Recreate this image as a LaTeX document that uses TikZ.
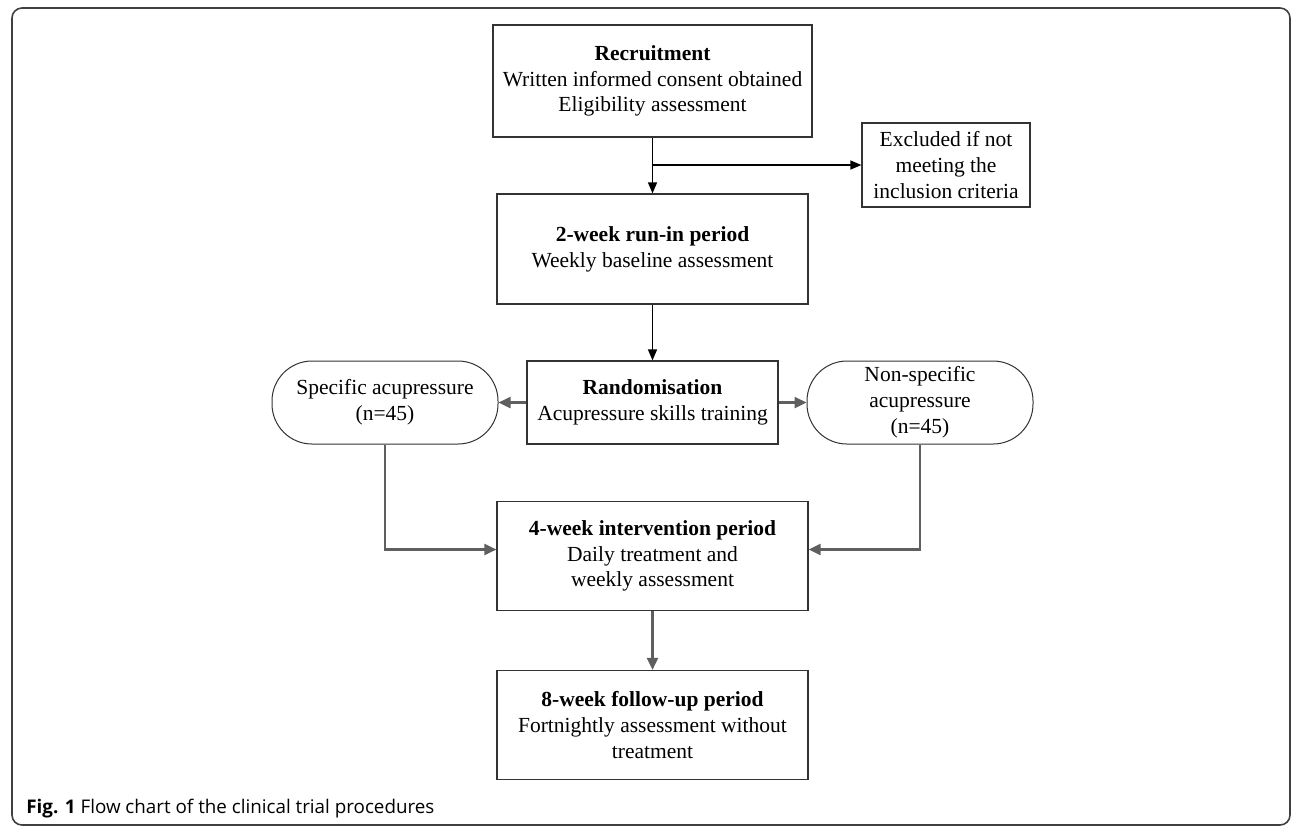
\documentclass[tikz,border=0pt]{standalone}
\usepackage{fontspec}
\setmainfont{Liberation Serif}
\newfontfamily\capfont{Open Sans}
\usetikzlibrary{arrows.meta,calc}
\definecolor{arrgray}{HTML}{5F5F5F}
\begin{document}
\begin{tikzpicture}[x=0.5pt,y=-0.5pt,
  every node/.style={font=\fontsize{10.75pt}{12.9pt}\selectfont, align=center, inner sep=0pt},
  box/.style={draw=black!80, line width=0.6pt, fill=white},
  pill/.style={draw=black!80, line width=0.5pt, rounded corners=20pt, fill=white},
  blk/.style={draw=black, line width=0.6pt, -{Triangle[length=5.5pt,width=4.5pt]}},
  gry/.style={draw=arrgray, line width=1.2pt, -{Triangle[length=6pt,width=5.5pt]}}]
\useasboundingbox (0,0) rectangle (1293,827);
\draw[black!75, line width=0.8pt, rounded corners=5pt] (12,8) rectangle (1290,825);

\node[box, minimum width=159.5pt, minimum height=56pt] (rec) at (652.5,81)
  {\textbf{Recruitment}\\Written informed consent obtained\\Eligibility assessment};
\node[box, minimum width=84pt, minimum height=42pt] (exc) at (946,165)
  {Excluded if not\\meeting the\\inclusion criteria};
\node[box, minimum width=155.5pt, minimum height=55pt] (run) at (652.5,249)
  {\textbf{2-week run-in period}\\Weekly baseline assessment};
\node[box, minimum width=125.5pt, minimum height=41.5pt] (rand) at (652.5,402.5)
  {\textbf{Randomisation}\\Acupressure skills training};
\node[pill, minimum width=113pt, minimum height=41.5pt] (spec) at (385,402.5)
  {Specific acupressure\\(n=45)};
\node[pill, minimum width=113pt, minimum height=41.5pt] (nons) at (920,402.5)
  {Non-specific\\acupressure\\(n=45)};
\node[box, minimum width=155.5pt, minimum height=54.5pt] (int) at (652.5,556)
  {\textbf{4-week intervention period}\\Daily treatment and\\weekly assessment};
\node[box, minimum width=155.5pt, minimum height=54.5pt] (fol) at (652.5,725)
  {\textbf{8-week follow-up period}\\Fortnightly assessment without\\treatment};

\node[anchor=base west, font=\capfont\fontsize{9.4pt}{11pt}\selectfont] (cap) at (26,813)
  {\textbf{Fig. 1} Flow chart of the clinical trial procedures};

\coordinate (br) at (rec.south |- exc.west);
\draw[blk] (rec.south) -- (run.north);
\draw[blk] (br) -- (exc.west);
\draw[blk] (run.south) -- (rand.north);
\draw[gry] (rand.west) -- (spec.east);
\draw[gry] (rand.east) -- (nons.west);
\draw[gry] (spec.south) |- ([yshift=3.25pt]int.west);
\draw[gry] (nons.south) |- ([yshift=3.25pt]int.east);
\draw[gry] (int.south) -- (fol.north);
\end{tikzpicture}
\end{document}
